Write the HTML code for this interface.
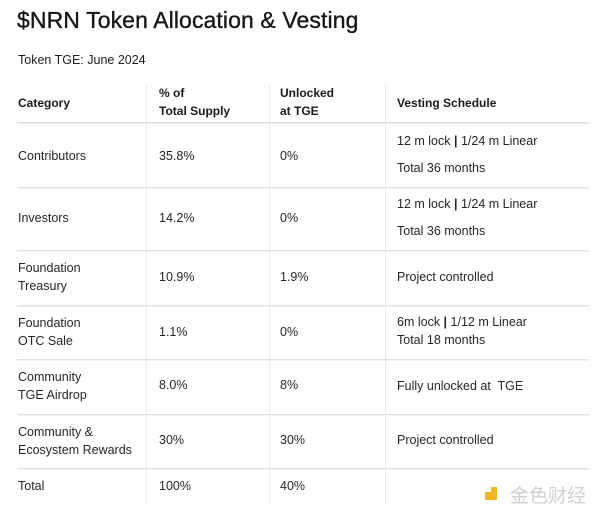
<!DOCTYPE html>
<html>
<head>
<meta charset="utf-8">
<style>
  html, body { margin:0; padding:0; background:#ffffff; }
  body { width:600px; height:516px; position:relative; overflow:hidden;
         font-family:"Liberation Sans", "Noto Sans CJK SC", sans-serif; color:#1e1e1e; }
  .t { position:absolute; white-space:nowrap; }
  .title { font-size:23px; line-height:28px; letter-spacing:0.1px; color:#161616; -webkit-text-stroke:0.35px #161616; }
  .sub { font-size:12.5px; line-height:18px; }
  .h { font-size:12px; line-height:18px; font-weight:bold; color:#1a1a1a; }
  .b { font-size:12.5px; line-height:18px; color:#262626; }
  .hl { position:absolute; left:17px; width:572px; height:1px; background:#e2e2e2; }
  .hl2 { position:absolute; left:17px; width:572px; height:1px; background:#f1f1f1; }
  .vl { position:absolute; top:85px; height:419px; width:1px; background:#ececec; }
</style>
</head>
<body>
  <div class="t title" style="left:17px; top:6px;">$NRN Token Allocation &amp; Vesting</div>
  <div class="t sub" style="left:18px; top:51px;">Token TGE: June 2024</div>

  <div class="vl" style="left:146px;"></div>
  <div class="vl" style="left:269px;"></div>
  <div class="vl" style="left:385px;"></div>

  <div class="hl" style="top:122px; background:#dcdcdc;"></div>
  <div class="hl2" style="top:123px; background:#ececec;"></div>
  <div class="hl" style="top:187px;"></div>
  <div class="hl2" style="top:188px;"></div>
  <div class="hl" style="top:250px;"></div>
  <div class="hl2" style="top:251px;"></div>
  <div class="hl" style="top:305px;"></div>
  <div class="hl2" style="top:306px;"></div>
  <div class="hl" style="top:359px;"></div>
  <div class="hl2" style="top:360px;"></div>
  <div class="hl" style="top:414px;"></div>
  <div class="hl2" style="top:415px;"></div>
  <div class="hl" style="top:468px;"></div>
  <div class="hl2" style="top:469px;"></div>

  <div class="t h" style="left:18px; top:94px;">Category</div>
  <div class="t h" style="left:159px; top:84px;">% of<br>Total Supply</div>
  <div class="t h" style="left:280px; top:84px;">Unlocked<br>at TGE</div>
  <div class="t h" style="left:397px; top:94px;">Vesting Schedule</div>

  <div class="t b" style="left:18px; top:147px;">Contributors</div>
  <div class="t b" style="left:159px; top:147px;">35.8%</div>
  <div class="t b" style="left:280px; top:147px;">0%</div>
  <div class="t b" style="left:397px; top:132px;">12 m lock <b style="font-weight:bold;">|</b> 1/24 m Linear</div>
  <div class="t b" style="left:397px; top:159px;">Total 36 months</div>

  <div class="t b" style="left:18px; top:209px;">Investors</div>
  <div class="t b" style="left:159px; top:209px;">14.2%</div>
  <div class="t b" style="left:280px; top:209px;">0%</div>
  <div class="t b" style="left:397px; top:195px;">12 m lock <b style="font-weight:bold;">|</b> 1/24 m Linear</div>
  <div class="t b" style="left:397px; top:222px;">Total 36 months</div>

  <div class="t b" style="left:18px; top:259px;">Foundation<br>Treasury</div>
  <div class="t b" style="left:159px; top:268px;">10.9%</div>
  <div class="t b" style="left:280px; top:268px;">1.9%</div>
  <div class="t b" style="left:397px; top:268px;">Project controlled</div>

  <div class="t b" style="left:18px; top:314px;">Foundation<br>OTC Sale</div>
  <div class="t b" style="left:159px; top:323px;">1.1%</div>
  <div class="t b" style="left:280px; top:323px;">0%</div>
  <div class="t b" style="left:397px; top:313px;">6m lock <b style="font-weight:bold;">|</b> 1/12 m Linear<br>Total 18 months</div>

  <div class="t b" style="left:18px; top:368px;">Community<br>TGE Airdrop</div>
  <div class="t b" style="left:159px; top:376px;">8.0%</div>
  <div class="t b" style="left:280px; top:376px;">8%</div>
  <div class="t b" style="left:397px; top:377px;">Fully unlocked at&nbsp; TGE</div>

  <div class="t b" style="left:18px; top:423px;">Community &amp;<br>Ecosystem Rewards</div>
  <div class="t b" style="left:159px; top:431px;">30%</div>
  <div class="t b" style="left:280px; top:431px;">30%</div>
  <div class="t b" style="left:397px; top:431px;">Project controlled</div>

  <div class="t b" style="left:18px; top:477px;">Total</div>
  <div class="t b" style="left:159px; top:477px;">100%</div>
  <div class="t b" style="left:280px; top:477px;">40%</div>

  <div style="position:absolute; left:485px; top:492px; width:6px; height:6px; background:#f0b429;"></div>
  <div style="position:absolute; left:491px; top:487px; width:6px; height:13px; background:#f0b429;"></div>
  <div style="position:absolute; left:485px; top:498px; width:12px; height:2px; background:#f0b429;"></div>
  <div class="t" style="left:510px; top:484px; font-size:19px; line-height:22px; color:#d0d0d0; font-family:'Noto Sans CJK SC', sans-serif;">金色财经</div>
</body>
</html>
